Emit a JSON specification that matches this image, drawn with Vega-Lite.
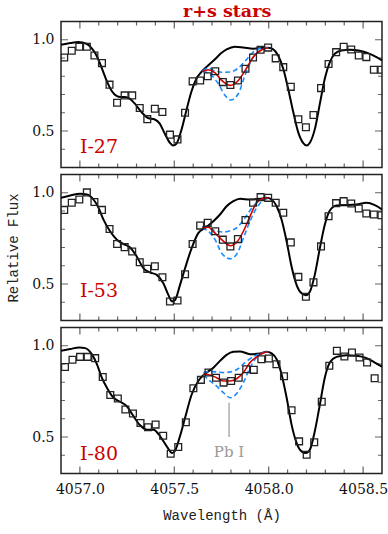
{
"$schema": "https://vega.github.io/schema/vega-lite/v6.json",
"background": "white",
"padding": {"left": 5, "top": 2.5, "right": 4, "bottom": 4},
"title": {"text": "r+s stars", "font": "DejaVu Serif", "fontSize": 17.5, "fontWeight": "bold", "color": "#cc0000", "anchor": "middle", "offset": 0, "dx": 30},
"spacing": 7,
"bounds": "flush",
"datasets": {
"xticks": [
{"pos":4057.0,"kind":"major"},{"pos":4057.5,"kind":"major"},{"pos":4058.0,"kind":"major"},{"pos":4058.5,"kind":"major"},
{"pos":4057.1,"kind":"minor"},{"pos":4057.2,"kind":"minor"},{"pos":4057.3,"kind":"minor"},{"pos":4057.4,"kind":"minor"},{"pos":4057.6,"kind":"minor"},{"pos":4057.7,"kind":"minor"},{"pos":4057.8,"kind":"minor"},{"pos":4057.9,"kind":"minor"},{"pos":4058.1,"kind":"minor"},{"pos":4058.2,"kind":"minor"},{"pos":4058.3,"kind":"minor"},{"pos":4058.4,"kind":"minor"}
],
"yticks": [
{"pos":0.5,"kind":"major"},{"pos":1.0,"kind":"major"},
{"pos":0.4,"kind":"minor"},{"pos":0.6,"kind":"minor"},{"pos":0.7,"kind":"minor"},{"pos":0.8,"kind":"minor"},{"pos":0.9,"kind":"minor"}
],
"obs27": [
{"lam":4056.917,"flux":0.903},{"lam":4056.957,"flux":0.940},{"lam":4056.997,"flux":0.962},{"lam":4057.037,"flux":0.962},{"lam":4057.077,"flux":0.914},{"lam":4057.117,"flux":0.872},{"lam":4057.157,"flux":0.754},{"lam":4057.197,"flux":0.655},{"lam":4057.237,"flux":0.695},{"lam":4057.277,"flux":0.695},{"lam":4057.317,"flux":0.626},{"lam":4057.357,"flux":0.565},{"lam":4057.397,"flux":0.622},{"lam":4057.437,"flux":0.604},{"lam":4057.477,"flux":0.480},{"lam":4057.517,"flux":0.454},{"lam":4057.557,"flux":0.600},{"lam":4057.597,"flux":0.772},{"lam":4057.637,"flux":0.777},{"lam":4057.677,"flux":0.800},{"lam":4057.717,"flux":0.827},{"lam":4057.757,"flux":0.768},{"lam":4057.797,"flux":0.752},{"lam":4057.837,"flux":0.777},{"lam":4057.877,"flux":0.841},{"lam":4057.917,"flux":0.903},{"lam":4057.957,"flux":0.945},{"lam":4057.997,"flux":0.957},{"lam":4058.037,"flux":0.898},{"lam":4058.077,"flux":0.850},{"lam":4058.117,"flux":0.742},{"lam":4058.157,"flux":0.564},{"lam":4058.197,"flux":0.521},{"lam":4058.237,"flux":0.588},{"lam":4058.277,"flux":0.735},{"lam":4058.317,"flux":0.867},{"lam":4058.357,"flux":0.932},{"lam":4058.397,"flux":0.962},{"lam":4058.437,"flux":0.947},{"lam":4058.477,"flux":0.914},{"lam":4058.517,"flux":0.905},{"lam":4058.557,"flux":0.836},{"lam":4058.597,"flux":0.836}
],
"syn27": [
{"lam":4056.9,"flux":0.973},{"lam":4056.95,"flux":0.982},{"lam":4056.991,"flux":0.987},{"lam":4057.035,"flux":0.978},{"lam":4057.061,"flux":0.955},{"lam":4057.088,"flux":0.914},{"lam":4057.114,"flux":0.850},{"lam":4057.141,"flux":0.777},{"lam":4057.167,"flux":0.722},{"lam":4057.194,"flux":0.692},{"lam":4057.215,"flux":0.686},{"lam":4057.238,"flux":0.686},{"lam":4057.264,"flux":0.677},{"lam":4057.291,"flux":0.650},{"lam":4057.326,"flux":0.604},{"lam":4057.361,"flux":0.571},{"lam":4057.397,"flux":0.563},{"lam":4057.423,"flux":0.540},{"lam":4057.450,"flux":0.485},{"lam":4057.476,"flux":0.436},{"lam":4057.493,"flux":0.421},{"lam":4057.511,"flux":0.430},{"lam":4057.537,"flux":0.503},{"lam":4057.564,"flux":0.613},{"lam":4057.590,"flux":0.714},{"lam":4057.617,"flux":0.786},{"lam":4057.643,"flux":0.823},{"lam":4057.679,"flux":0.859},{"lam":4057.714,"flux":0.892},{"lam":4057.749,"flux":0.927},{"lam":4057.777,"flux":0.947},{"lam":4057.821,"flux":0.962},{"lam":4057.865,"flux":0.958},{"lam":4057.918,"flux":0.951},{"lam":4057.963,"flux":0.955},{"lam":4057.998,"flux":0.956},{"lam":4058.024,"flux":0.947},{"lam":4058.050,"flux":0.914},{"lam":4058.077,"flux":0.841},{"lam":4058.103,"flux":0.732},{"lam":4058.130,"flux":0.604},{"lam":4058.156,"flux":0.494},{"lam":4058.183,"flux":0.434},{"lam":4058.201,"flux":0.421},{"lam":4058.218,"flux":0.436},{"lam":4058.245,"flux":0.513},{"lam":4058.271,"flux":0.650},{"lam":4058.297,"flux":0.786},{"lam":4058.324,"flux":0.878},{"lam":4058.350,"flux":0.923},{"lam":4058.386,"flux":0.941},{"lam":4058.430,"flux":0.945},{"lam":4058.482,"flux":0.940},{"lam":4058.526,"flux":0.927},{"lam":4058.571,"flux":0.905},{"lam":4058.600,"flux":0.887}
],
"fit27": [
{"lam":4057.650,"flux":0.826},{"lam":4057.680,"flux":0.836},{"lam":4057.716,"flux":0.819},{"lam":4057.751,"flux":0.777},{"lam":4057.795,"flux":0.750},{"lam":4057.839,"flux":0.777},{"lam":4057.883,"flux":0.845},{"lam":4057.918,"flux":0.905},{"lam":4057.963,"flux":0.945},{"lam":4057.998,"flux":0.956}
],
"alt27": [
{"lam":4057.650,"flux":0.830,"curve":"low Pb"},{"lam":4057.680,"flux":0.845,"curve":"low Pb"},{"lam":4057.716,"flux":0.829,"curve":"low Pb"},{"lam":4057.751,"flux":0.822,"curve":"low Pb"},{"lam":4057.795,"flux":0.823,"curve":"low Pb"},{"lam":4057.839,"flux":0.845,"curve":"low Pb"},{"lam":4057.874,"flux":0.882,"curve":"low Pb"},{"lam":4057.918,"flux":0.932,"curve":"low Pb"},{"lam":4057.963,"flux":0.955,"curve":"low Pb"},{"lam":4057.998,"flux":0.956,"curve":"low Pb"},
{"lam":4057.650,"flux":0.826,"curve":"high Pb"},{"lam":4057.689,"flux":0.812,"curve":"high Pb"},{"lam":4057.733,"flux":0.759,"curve":"high Pb"},{"lam":4057.769,"flux":0.695,"curve":"high Pb"},{"lam":4057.800,"flux":0.670,"curve":"high Pb"},{"lam":4057.839,"flux":0.704,"curve":"high Pb"},{"lam":4057.874,"flux":0.805,"curve":"high Pb"},{"lam":4057.910,"flux":0.890,"curve":"high Pb"},{"lam":4057.954,"flux":0.941,"curve":"high Pb"},{"lam":4057.990,"flux":0.955,"curve":"high Pb"}
],
"obs53": [
{"lam":4056.917,"flux":0.906},{"lam":4056.957,"flux":0.945},{"lam":4056.997,"flux":0.963},{"lam":4057.037,"flux":1.002},{"lam":4057.077,"flux":0.949},{"lam":4057.117,"flux":0.906},{"lam":4057.157,"flux":0.801},{"lam":4057.197,"flux":0.719},{"lam":4057.237,"flux":0.702},{"lam":4057.277,"flux":0.678},{"lam":4057.317,"flux":0.619},{"lam":4057.357,"flux":0.583},{"lam":4057.397,"flux":0.597},{"lam":4057.437,"flux":0.537},{"lam":4057.477,"flux":0.404},{"lam":4057.517,"flux":0.410},{"lam":4057.557,"flux":0.553},{"lam":4057.597,"flux":0.719},{"lam":4057.637,"flux":0.820},{"lam":4057.677,"flux":0.835},{"lam":4057.717,"flux":0.789},{"lam":4057.757,"flux":0.743},{"lam":4057.797,"flux":0.706},{"lam":4057.837,"flux":0.746},{"lam":4057.877,"flux":0.851},{"lam":4057.917,"flux":0.945},{"lam":4057.957,"flux":0.976},{"lam":4057.997,"flux":0.972},{"lam":4058.037,"flux":0.945},{"lam":4058.077,"flux":0.890},{"lam":4058.117,"flux":0.728},{"lam":4058.157,"flux":0.539},{"lam":4058.197,"flux":0.430},{"lam":4058.237,"flux":0.509},{"lam":4058.277,"flux":0.706},{"lam":4058.317,"flux":0.871},{"lam":4058.357,"flux":0.943},{"lam":4058.397,"flux":0.954},{"lam":4058.437,"flux":0.941},{"lam":4058.477,"flux":0.914},{"lam":4058.517,"flux":0.886},{"lam":4058.557,"flux":0.881},{"lam":4058.597,"flux":0.877}
],
"syn53": [
{"lam":4056.9,"flux":0.972},{"lam":4056.949,"flux":0.985},{"lam":4057.002,"flux":0.994},{"lam":4057.037,"flux":0.991},{"lam":4057.072,"flux":0.963},{"lam":4057.099,"flux":0.917},{"lam":4057.125,"flux":0.853},{"lam":4057.160,"flux":0.789},{"lam":4057.196,"flux":0.743},{"lam":4057.231,"flux":0.719},{"lam":4057.266,"flux":0.700},{"lam":4057.301,"flux":0.651},{"lam":4057.337,"flux":0.586},{"lam":4057.372,"flux":0.563},{"lam":4057.407,"flux":0.550},{"lam":4057.442,"flux":0.504},{"lam":4057.469,"flux":0.439},{"lam":4057.488,"flux":0.405},{"lam":4057.504,"flux":0.412},{"lam":4057.530,"flux":0.494},{"lam":4057.557,"flux":0.586},{"lam":4057.592,"flux":0.697},{"lam":4057.627,"flux":0.779},{"lam":4057.663,"flux":0.807},{"lam":4057.707,"flux":0.844},{"lam":4057.742,"flux":0.881},{"lam":4057.777,"flux":0.926},{"lam":4057.813,"flux":0.954},{"lam":4057.848,"flux":0.967},{"lam":4057.901,"flux":0.963},{"lam":4057.954,"flux":0.967},{"lam":4057.989,"flux":0.972},{"lam":4058.015,"flux":0.963},{"lam":4058.042,"flux":0.926},{"lam":4058.068,"flux":0.853},{"lam":4058.095,"flux":0.733},{"lam":4058.121,"flux":0.596},{"lam":4058.148,"flux":0.494},{"lam":4058.174,"flux":0.449},{"lam":4058.197,"flux":0.439},{"lam":4058.218,"flux":0.458},{"lam":4058.244,"flux":0.550},{"lam":4058.271,"flux":0.697},{"lam":4058.297,"flux":0.825},{"lam":4058.324,"flux":0.903},{"lam":4058.359,"flux":0.930},{"lam":4058.412,"flux":0.932},{"lam":4058.465,"flux":0.936},{"lam":4058.518,"flux":0.945},{"lam":4058.562,"flux":0.932},{"lam":4058.600,"flux":0.908}
],
"fit53": [
{"lam":4057.647,"flux":0.807},{"lam":4057.680,"flux":0.811},{"lam":4057.716,"flux":0.779},{"lam":4057.751,"flux":0.743},{"lam":4057.797,"flux":0.710},{"lam":4057.834,"flux":0.733},{"lam":4057.866,"flux":0.789},{"lam":4057.901,"flux":0.871},{"lam":4057.936,"flux":0.945},{"lam":4057.971,"flux":0.969},{"lam":4057.998,"flux":0.972}
],
"alt53": [
{"lam":4057.647,"flux":0.814,"curve":"low Pb"},{"lam":4057.680,"flux":0.808,"curve":"low Pb"},{"lam":4057.716,"flux":0.792,"curve":"low Pb"},{"lam":4057.760,"flux":0.785,"curve":"low Pb"},{"lam":4057.797,"flux":0.792,"curve":"low Pb"},{"lam":4057.834,"flux":0.811,"curve":"low Pb"},{"lam":4057.874,"flux":0.862,"curve":"low Pb"},{"lam":4057.918,"flux":0.926,"curve":"low Pb"},{"lam":4057.963,"flux":0.963,"curve":"low Pb"},{"lam":4057.990,"flux":0.972,"curve":"low Pb"},
{"lam":4057.647,"flux":0.805,"curve":"high Pb"},{"lam":4057.680,"flux":0.789,"curve":"high Pb"},{"lam":4057.716,"flux":0.743,"curve":"high Pb"},{"lam":4057.751,"flux":0.669,"curve":"high Pb"},{"lam":4057.797,"flux":0.638,"curve":"high Pb"},{"lam":4057.834,"flux":0.669,"curve":"high Pb"},{"lam":4057.866,"flux":0.752,"curve":"high Pb"},{"lam":4057.901,"flux":0.844,"curve":"high Pb"},{"lam":4057.936,"flux":0.917,"curve":"high Pb"},{"lam":4057.971,"flux":0.958,"curve":"high Pb"},{"lam":4057.998,"flux":0.970,"curve":"high Pb"}
],
"obs80": [
{"lam":4056.921,"flux":0.884},{"lam":4056.961,"flux":0.923},{"lam":4057.001,"flux":0.939},{"lam":4057.041,"flux":0.939},{"lam":4057.081,"flux":0.932},{"lam":4057.121,"flux":0.829},{"lam":4057.161,"flux":0.730},{"lam":4057.201,"flux":0.711},{"lam":4057.241,"flux":0.651},{"lam":4057.281,"flux":0.629},{"lam":4057.321,"flux":0.577},{"lam":4057.361,"flux":0.553},{"lam":4057.401,"flux":0.568},{"lam":4057.441,"flux":0.507},{"lam":4057.481,"flux":0.408},{"lam":4057.521,"flux":0.445},{"lam":4057.561,"flux":0.581},{"lam":4057.601,"flux":0.767},{"lam":4057.641,"flux":0.813},{"lam":4057.681,"flux":0.853},{"lam":4057.721,"flux":0.825},{"lam":4057.761,"flux":0.798},{"lam":4057.801,"flux":0.807},{"lam":4057.841,"flux":0.825},{"lam":4057.881,"flux":0.871},{"lam":4057.921,"flux":0.868},{"lam":4057.961,"flux":0.926},{"lam":4058.001,"flux":0.930},{"lam":4058.041,"flux":0.899},{"lam":4058.081,"flux":0.833},{"lam":4058.121,"flux":0.647},{"lam":4058.161,"flux":0.476},{"lam":4058.201,"flux":0.403},{"lam":4058.241,"flux":0.471},{"lam":4058.281,"flux":0.693},{"lam":4058.321,"flux":0.890},{"lam":4058.361,"flux":0.972},{"lam":4058.401,"flux":0.941},{"lam":4058.441,"flux":0.963},{"lam":4058.481,"flux":0.936},{"lam":4058.521,"flux":0.908},{"lam":4058.561,"flux":0.822}
],
"syn80": [
{"lam":4056.9,"flux":0.972},{"lam":4056.949,"flux":0.982},{"lam":4056.996,"flux":0.991},{"lam":4057.028,"flux":0.987},{"lam":4057.063,"flux":0.954},{"lam":4057.090,"flux":0.899},{"lam":4057.116,"flux":0.825},{"lam":4057.143,"flux":0.770},{"lam":4057.178,"flux":0.715},{"lam":4057.213,"flux":0.693},{"lam":4057.248,"flux":0.669},{"lam":4057.284,"flux":0.614},{"lam":4057.319,"flux":0.564},{"lam":4057.354,"flux":0.540},{"lam":4057.390,"flux":0.540},{"lam":4057.425,"flux":0.504},{"lam":4057.460,"flux":0.449},{"lam":4057.488,"flux":0.412},{"lam":4057.504,"flux":0.425},{"lam":4057.530,"flux":0.504},{"lam":4057.557,"flux":0.605},{"lam":4057.592,"flux":0.733},{"lam":4057.627,"flux":0.807},{"lam":4057.663,"flux":0.847},{"lam":4057.707,"flux":0.880},{"lam":4057.742,"flux":0.917},{"lam":4057.777,"flux":0.950},{"lam":4057.813,"flux":0.967},{"lam":4057.848,"flux":0.969},{"lam":4057.901,"flux":0.954},{"lam":4057.954,"flux":0.958},{"lam":4057.989,"flux":0.967},{"lam":4058.015,"flux":0.958},{"lam":4058.042,"flux":0.926},{"lam":4058.068,"flux":0.844},{"lam":4058.095,"flux":0.715},{"lam":4058.121,"flux":0.568},{"lam":4058.148,"flux":0.467},{"lam":4058.174,"flux":0.421},{"lam":4058.197,"flux":0.412},{"lam":4058.218,"flux":0.430},{"lam":4058.244,"flux":0.531},{"lam":4058.271,"flux":0.678},{"lam":4058.297,"flux":0.825},{"lam":4058.324,"flux":0.908},{"lam":4058.359,"flux":0.939},{"lam":4058.412,"flux":0.948},{"lam":4058.465,"flux":0.945},{"lam":4058.518,"flux":0.932},{"lam":4058.562,"flux":0.908},{"lam":4058.600,"flux":0.885}
],
"fit80": [
{"lam":4057.654,"flux":0.844},{"lam":4057.689,"flux":0.840},{"lam":4057.724,"flux":0.825},{"lam":4057.760,"flux":0.807},{"lam":4057.797,"flux":0.807},{"lam":4057.834,"flux":0.822},{"lam":4057.866,"flux":0.853},{"lam":4057.901,"flux":0.908},{"lam":4057.936,"flux":0.939},{"lam":4057.971,"flux":0.960},{"lam":4057.998,"flux":0.967}
],
"alt80": [
{"lam":4057.654,"flux":0.853,"curve":"low Pb"},{"lam":4057.689,"flux":0.858,"curve":"low Pb"},{"lam":4057.724,"flux":0.857,"curve":"low Pb"},{"lam":4057.760,"flux":0.853,"curve":"low Pb"},{"lam":4057.797,"flux":0.857,"curve":"low Pb"},{"lam":4057.834,"flux":0.871,"curve":"low Pb"},{"lam":4057.874,"flux":0.908,"curve":"low Pb"},{"lam":4057.918,"flux":0.939,"curve":"low Pb"},{"lam":4057.963,"flux":0.960,"curve":"low Pb"},{"lam":4057.995,"flux":0.967,"curve":"low Pb"},
{"lam":4057.654,"flux":0.840,"curve":"high Pb"},{"lam":4057.689,"flux":0.807,"curve":"high Pb"},{"lam":4057.724,"flux":0.779,"curve":"high Pb"},{"lam":4057.760,"flux":0.743,"curve":"high Pb"},{"lam":4057.797,"flux":0.715,"curve":"high Pb"},{"lam":4057.834,"flux":0.743,"curve":"high Pb"},{"lam":4057.866,"flux":0.798,"curve":"high Pb"},{"lam":4057.901,"flux":0.880,"curve":"high Pb"},{"lam":4057.936,"flux":0.936,"curve":"high Pb"},{"lam":4057.971,"flux":0.960,"curve":"high Pb"},{"lam":4057.998,"flux":0.967,"curve":"high Pb"}
]
},
"vconcat": [
{
"width": 321, "height": 146,
"layer": [
{"data": {"name": "xticks"}, "mark": {"type": "tick", "orient": "vertical", "color": "#222", "thickness": 1.2, "clip": true},
 "encoding": {"x": {"field": "pos", "type": "quantitative", "scale": {"domain": [4056.9, 4058.6], "nice": false, "zero": false}, "axis": null}, "y": {"datum": 0.3, "type": "quantitative", "scale": {"domain": [0.3, 1.1], "nice": false, "zero": false}}, "size": {"field": "kind", "type": "nominal", "scale": {"domain": ["major", "minor"], "range": [14, 8]}, "legend": null}}},
{"data": {"name": "xticks"}, "mark": {"type": "tick", "orient": "vertical", "color": "#222", "thickness": 1.2, "clip": true},
 "encoding": {"x": {"field": "pos", "type": "quantitative"}, "y": {"datum": 1.1, "type": "quantitative"}, "size": {"field": "kind", "type": "nominal", "legend": null}}},
{"data": {"name": "yticks"}, "mark": {"type": "tick", "orient": "horizontal", "color": "#222", "thickness": 1.2, "clip": true},
 "encoding": {"y": {"field": "pos", "type": "quantitative"}, "x": {"datum": 4056.9, "type": "quantitative"}, "size": {"field": "kind", "type": "nominal", "legend": null}}},
{"data": {"name": "yticks"}, "mark": {"type": "tick", "orient": "horizontal", "color": "#222", "thickness": 1.2, "clip": true},
 "encoding": {"y": {"field": "pos", "type": "quantitative"}, "x": {"datum": 4058.6, "type": "quantitative"}, "size": {"field": "kind", "type": "nominal", "legend": null}}},
{"data": {"name": "syn27"}, "mark": {"type": "line", "color": "#000", "strokeWidth": 2, "interpolate": "monotone", "clip": true},
 "encoding": {"x": {"field": "lam", "type": "quantitative"},
  "y": {"field": "flux", "type": "quantitative", "axis": {"orient": "left", "values": [0.5, 1.0], "ticks": false, "tickSize": 0, "format": ".1f", "labelPadding": 7, "title": null}}}},
{"data": {"name": "alt27"}, "mark": {"type": "line", "color": "#1a8cff", "strokeWidth": 1.6, "strokeDash": [5, 3], "interpolate": "monotone", "clip": true},
 "encoding": {"detail": {"field": "curve"}, "x": {"field": "lam", "type": "quantitative"}, "y": {"field": "flux", "type": "quantitative"}}},
{"data": {"name": "fit27"}, "mark": {"type": "line", "color": "#d40000", "strokeWidth": 1.6, "interpolate": "monotone", "clip": true},
 "encoding": {"x": {"field": "lam", "type": "quantitative"}, "y": {"field": "flux", "type": "quantitative"}}},
{"data": {"name": "obs27"}, "mark": {"type": "point", "shape": "square", "filled": false, "size": 46, "stroke": "#222", "strokeWidth": 1.3, "opacity": 1, "clip": true},
 "encoding": {"x": {"field": "lam", "type": "quantitative"}, "y": {"field": "flux", "type": "quantitative"}}},
{"data": {"values": [{"star": "I-27"}]}, "mark": {"type": "text", "font": "DejaVu Serif", "fontSize": 19, "color": "#cc0000", "align": "left", "baseline": "alphabetic"},
 "encoding": {"x": {"datum": 4057.0, "type": "quantitative"}, "y": {"datum": 0.38, "type": "quantitative"}, "text": {"field": "star"}}}
]
},
{
"width": 321, "height": 146,
"layer": [
{"data": {"name": "xticks"}, "mark": {"type": "tick", "orient": "vertical", "color": "#222", "thickness": 1.2, "clip": true},
 "encoding": {"x": {"field": "pos", "type": "quantitative", "scale": {"domain": [4056.9, 4058.6], "nice": false, "zero": false}, "axis": null}, "y": {"datum": 0.3, "type": "quantitative", "scale": {"domain": [0.3, 1.1], "nice": false, "zero": false}}, "size": {"field": "kind", "type": "nominal", "scale": {"domain": ["major", "minor"], "range": [14, 8]}, "legend": null}}},
{"data": {"name": "xticks"}, "mark": {"type": "tick", "orient": "vertical", "color": "#222", "thickness": 1.2, "clip": true},
 "encoding": {"x": {"field": "pos", "type": "quantitative"}, "y": {"datum": 1.1, "type": "quantitative"}, "size": {"field": "kind", "type": "nominal", "legend": null}}},
{"data": {"name": "yticks"}, "mark": {"type": "tick", "orient": "horizontal", "color": "#222", "thickness": 1.2, "clip": true},
 "encoding": {"y": {"field": "pos", "type": "quantitative"}, "x": {"datum": 4056.9, "type": "quantitative"}, "size": {"field": "kind", "type": "nominal", "legend": null}}},
{"data": {"name": "yticks"}, "mark": {"type": "tick", "orient": "horizontal", "color": "#222", "thickness": 1.2, "clip": true},
 "encoding": {"y": {"field": "pos", "type": "quantitative"}, "x": {"datum": 4058.6, "type": "quantitative"}, "size": {"field": "kind", "type": "nominal", "legend": null}}},
{"data": {"name": "syn53"}, "mark": {"type": "line", "color": "#000", "strokeWidth": 2, "interpolate": "monotone", "clip": true},
 "encoding": {"x": {"field": "lam", "type": "quantitative"},
  "y": {"field": "flux", "type": "quantitative", "axis": {"orient": "left", "values": [0.5, 1.0], "ticks": false, "tickSize": 0, "format": ".1f", "labelPadding": 7, "title": "Relative Flux", "titlePadding": 11}}}},
{"data": {"name": "alt53"}, "mark": {"type": "line", "color": "#1a8cff", "strokeWidth": 1.6, "strokeDash": [5, 3], "interpolate": "monotone", "clip": true},
 "encoding": {"detail": {"field": "curve"}, "x": {"field": "lam", "type": "quantitative"}, "y": {"field": "flux", "type": "quantitative"}}},
{"data": {"name": "fit53"}, "mark": {"type": "line", "color": "#d40000", "strokeWidth": 1.6, "interpolate": "monotone", "clip": true},
 "encoding": {"x": {"field": "lam", "type": "quantitative"}, "y": {"field": "flux", "type": "quantitative"}}},
{"data": {"name": "obs53"}, "mark": {"type": "point", "shape": "square", "filled": false, "size": 46, "stroke": "#222", "strokeWidth": 1.3, "opacity": 1, "clip": true},
 "encoding": {"x": {"field": "lam", "type": "quantitative"}, "y": {"field": "flux", "type": "quantitative"}}},
{"data": {"values": [{"star": "I-53"}]}, "mark": {"type": "text", "font": "DejaVu Serif", "fontSize": 19, "color": "#cc0000", "align": "left", "baseline": "alphabetic"},
 "encoding": {"x": {"datum": 4057.0, "type": "quantitative"}, "y": {"datum": 0.43, "type": "quantitative"}, "text": {"field": "star"}}}
]
},
{
"width": 321, "height": 146,
"layer": [
{"data": {"name": "xticks"}, "mark": {"type": "tick", "orient": "vertical", "color": "#222", "thickness": 1.2, "clip": true},
 "encoding": {"x": {"field": "pos", "type": "quantitative", "scale": {"domain": [4056.9, 4058.6], "nice": false, "zero": false}, "axis": {"orient": "bottom", "values": [4057, 4057.5, 4058, 4058.5], "labels": true, "ticks": false, "tickSize": 0, "format": ".1f", "labelPadding": 9, "title": "Wavelength (Å)", "titlePadding": 12}}, "y": {"datum": 0.3, "type": "quantitative", "scale": {"domain": [0.3, 1.1], "nice": false, "zero": false}}, "size": {"field": "kind", "type": "nominal", "scale": {"domain": ["major", "minor"], "range": [14, 8]}, "legend": null}}},
{"data": {"name": "xticks"}, "mark": {"type": "tick", "orient": "vertical", "color": "#222", "thickness": 1.2, "clip": true},
 "encoding": {"x": {"field": "pos", "type": "quantitative"}, "y": {"datum": 1.1, "type": "quantitative"}, "size": {"field": "kind", "type": "nominal", "legend": null}}},
{"data": {"name": "yticks"}, "mark": {"type": "tick", "orient": "horizontal", "color": "#222", "thickness": 1.2, "clip": true},
 "encoding": {"y": {"field": "pos", "type": "quantitative"}, "x": {"datum": 4056.9, "type": "quantitative"}, "size": {"field": "kind", "type": "nominal", "legend": null}}},
{"data": {"name": "yticks"}, "mark": {"type": "tick", "orient": "horizontal", "color": "#222", "thickness": 1.2, "clip": true},
 "encoding": {"y": {"field": "pos", "type": "quantitative"}, "x": {"datum": 4058.6, "type": "quantitative"}, "size": {"field": "kind", "type": "nominal", "legend": null}}},
{"data": {"name": "syn80"}, "mark": {"type": "line", "color": "#000", "strokeWidth": 2, "interpolate": "monotone", "clip": true},
 "encoding": {"x": {"field": "lam", "type": "quantitative"},
  "y": {"field": "flux", "type": "quantitative", "axis": {"orient": "left", "values": [0.5, 1.0], "ticks": false, "tickSize": 0, "format": ".1f", "labelPadding": 7, "title": null}}}},
{"data": {"name": "alt80"}, "mark": {"type": "line", "color": "#1a8cff", "strokeWidth": 1.6, "strokeDash": [5, 3], "interpolate": "monotone", "clip": true},
 "encoding": {"detail": {"field": "curve"}, "x": {"field": "lam", "type": "quantitative"}, "y": {"field": "flux", "type": "quantitative"}}},
{"data": {"name": "fit80"}, "mark": {"type": "line", "color": "#d40000", "strokeWidth": 1.6, "interpolate": "monotone", "clip": true},
 "encoding": {"x": {"field": "lam", "type": "quantitative"}, "y": {"field": "flux", "type": "quantitative"}}},
{"data": {"name": "obs80"}, "mark": {"type": "point", "shape": "square", "filled": false, "size": 46, "stroke": "#222", "strokeWidth": 1.3, "opacity": 1, "clip": true},
 "encoding": {"x": {"field": "lam", "type": "quantitative"}, "y": {"field": "flux", "type": "quantitative"}}},
{"data": {"values": [{"star": "I-80"}]}, "mark": {"type": "text", "font": "DejaVu Serif", "fontSize": 19, "color": "#cc0000", "align": "left", "baseline": "alphabetic"},
 "encoding": {"x": {"datum": 4057.0, "type": "quantitative"}, "y": {"datum": 0.375, "type": "quantitative"}, "text": {"field": "star"}}},
{"data": {"values": [{"line": "Pb I"}]}, "mark": {"type": "rule", "color": "#999", "strokeWidth": 1.2},
 "encoding": {"x": {"datum": 4057.79, "type": "quantitative"}, "y": {"datum": 0.6875, "type": "quantitative"}, "y2": {"datum": 0.5}}},
{"data": {"values": [{"line": "Pb I"}]}, "mark": {"type": "text", "font": "DejaVu Serif", "fontSize": 15, "color": "#999", "align": "center", "baseline": "alphabetic"},
 "encoding": {"x": {"datum": 4057.79, "type": "quantitative"}, "y": {"datum": 0.388, "type": "quantitative"}, "text": {"field": "line"}}}
]
}
],
"config": {
"view": {"stroke": "#222", "strokeWidth": 1.5},
"axis": {"grid": false, "domain": false, "ticks": false, "labelFont": "DejaVu Serif", "labelFontSize": 14, "labelColor": "#111", "labelFlush": false, "labelOverlap": false, "titleFont": "Liberation Mono", "titleFontSize": 14, "titleFontWeight": "normal", "titleColor": "#222"}
}
}
